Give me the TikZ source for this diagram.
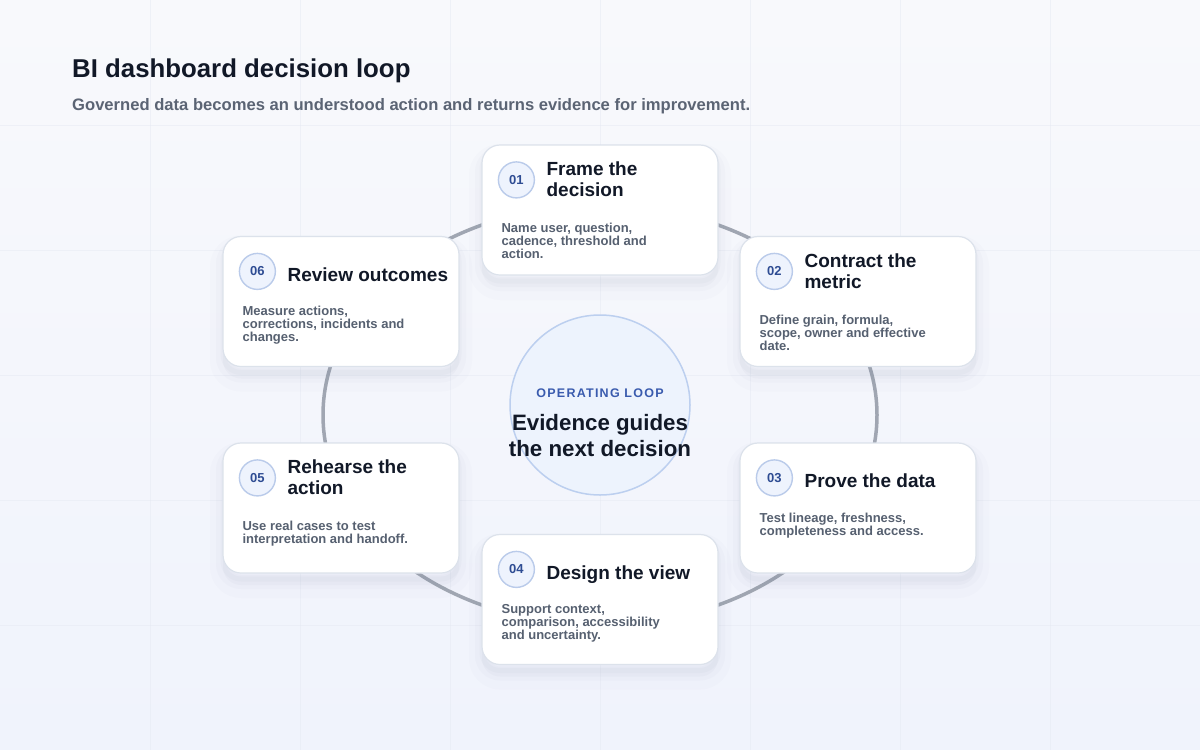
\documentclass[tikz,border=0pt]{standalone}
\usepackage{fontspec}
\setmainfont{Liberation Sans}
\usepackage{xcolor}
\usepackage{tikz}
\usetikzlibrary{arrows,positioning}

\definecolor{bgtop}{HTML}{F8F9FC}
\definecolor{bgbot}{HTML}{F0F3FC}
\definecolor{gridln}{HTML}{E4E8F1}
\definecolor{ringgray}{HTML}{A0A6B2}
\definecolor{cardedge}{HTML}{DCE2EB}
\definecolor{shadowc}{HTML}{7C87A6}
\definecolor{badgefill}{HTML}{EEF3FD}
\definecolor{badgeedge}{HTML}{BACBEA}
\definecolor{badgeblue}{HTML}{2E4C93}
\definecolor{ink}{HTML}{111827}
\definecolor{muted}{HTML}{566070}
\definecolor{subink}{HTML}{5B6474}
\definecolor{hubfill}{HTML}{EDF3FD}
\definecolor{hubedge}{HTML}{BCCFEF}
\definecolor{hubblue}{HTML}{3A5BAE}

\tikzset{
  card/.style={draw=cardedge, line width=1.2pt, fill=white, rounded corners=18pt,
    minimum width=236pt, minimum height=130pt, inner sep=0pt,
    preaction={fill=shadowc, fill opacity=0.04, draw=shadowc, draw opacity=0.02,
      line width=26pt, transform canvas={yshift=-12pt}},
    preaction={fill=none, draw=shadowc, draw opacity=0.03, line width=14pt,
      transform canvas={yshift=-9pt}},
    preaction={fill=none, draw=shadowc, draw opacity=0.04, line width=5pt,
      transform canvas={yshift=-6pt}}},
  badge/.style={circle, draw=badgeedge, line width=1.4pt, fill=badgefill,
    minimum size=36pt, inner sep=0pt, text=badgeblue,
    font=\fontsize{13}{13}\selectfont\bfseries},
  cardtitle/.style={anchor=north west, inner sep=0pt, align=left, text=ink,
    font=\fontsize{19}{21}\selectfont\bfseries},
  carddesc/.style={anchor=north west, inner sep=0pt, align=left, text=muted,
    font=\fontsize{13}{13}\selectfont\bfseries},
}

\begin{document}
\begin{tikzpicture}[x=1pt,y=-1pt]
      \useasboundingbox (0,0) rectangle (1200,750);
      \shade[top color=bgtop, bottom color=bgbot] (0,0) rectangle (1200,750);
      % faint grid
      \foreach \gx in {150,300,...,1050}
        \draw[gridln, line width=1pt, opacity=0.45] (\gx,0) -- (\gx,750);
      \foreach \gy in {125,250,...,625}
        \draw[gridln, line width=1pt, opacity=0.45] (0,\gy) -- (1200,\gy);

      \node[anchor=base west, inner sep=0pt, text=ink,
        font=\fontsize{25.8}{30}\selectfont\bfseries] (heading) at (72,77)
        {BI dashboard decision loop};
      \node[anchor=base west, inner sep=0pt, text=subink,
        font=\fontsize{16.6}{20}\selectfont\bfseries] (subheading) at (72,110)
        {Governed data becomes an understood action and returns evidence for improvement.};

      % the loop
      \draw[ringgray, line width=3.5pt] (600,415) ellipse [x radius=277, y radius=210];

      \node[circle, draw=hubedge, line width=1.5pt, fill=hubfill, minimum size=180pt,
        inner sep=0pt] (hub) at (600,405) {};
      \node[anchor=base, inner sep=0pt, text=hubblue,
        font=\fontsize{12.5}{13}\selectfont\bfseries\addfontfeatures{LetterSpace=10}]
        (hubtag) at (600,397) {OPERATING LOOP};
      \node[anchor=north, inner sep=0pt, align=center, text=ink,
        font=\fontsize{22.3}{26}\selectfont\bfseries] (hubtext) at (600,413)
        {\rule{0pt}{17pt}Evidence guides\\the next decision};

      \node[card] (frame) at (600,210) {};
      \node[badge] (frameno) at ([shift={(35,35.5)}]frame.north west) {01};
      \node[cardtitle] (frametitle) at ([shift={(65,17)}]frame.north west)
        {\rule{0pt}{14pt}Frame the\\decision};
      \node[carddesc] (framedesc) at ([shift={(20,78)}]frame.north west)
        {\rule{0pt}{10pt}Name user, question,\\cadence, threshold and\\action.};

      \node[card] (contract) at (858,301.5) {};
      \node[badge] (contractno) at ([shift={(35,35.5)}]contract.north west) {02};
      \node[cardtitle] (contracttitle) at ([shift={(65,17)}]contract.north west)
        {\rule{0pt}{14pt}Contract the\\metric};
      \node[carddesc] (contractdesc) at ([shift={(20,78)}]contract.north west)
        {\rule{0pt}{10pt}Define grain, formula,\\scope, owner and effective\\date.};

      \node[card] (prove) at (858,508) {};
      \node[badge] (proveno) at ([shift={(35,35.5)}]prove.north west) {03};
      \node[cardtitle] (provetitle) at ([shift={(65,31)}]prove.north west)
        {\rule{0pt}{14pt}Prove the data};
      \node[carddesc] (provedesc) at ([shift={(20,70)}]prove.north west)
        {\rule{0pt}{10pt}Test lineage, freshness,\\completeness and access.};

      \node[card] (design) at (600,599.5) {};
      \node[badge] (designno) at ([shift={(35,35.5)}]design.north west) {04};
      \node[cardtitle] (designtitle) at ([shift={(65,31)}]design.north west)
        {\rule{0pt}{14pt}Design the view};
      \node[carddesc] (designdesc) at ([shift={(20,69)}]design.north west)
        {\rule{0pt}{10pt}Support context,\\comparison, accessibility\\and uncertainty.};

      \node[card] (rehearse) at (341,508) {};
      \node[badge] (rehearseno) at ([shift={(35,35.5)}]rehearse.north west) {05};
      \node[cardtitle] (rehearsetitle) at ([shift={(65,17)}]rehearse.north west)
        {\rule{0pt}{14pt}Rehearse the\\action};
      \node[carddesc] (rehearsedesc) at ([shift={(20,78)}]rehearse.north west)
        {\rule{0pt}{10pt}Use real cases to test\\interpretation and handoff.};

      \node[card] (review) at (341,301.5) {};
      \node[badge] (reviewno) at ([shift={(35,35.5)}]review.north west) {06};
      \node[cardtitle] (reviewtitle) at ([shift={(65,31)}]review.north west)
        {\rule{0pt}{14pt}Review outcomes};
      \node[carddesc] (reviewdesc) at ([shift={(20,69)}]review.north west)
        {\rule{0pt}{10pt}Measure actions,\\corrections, incidents and\\changes.};
\end{tikzpicture}
\end{document}
